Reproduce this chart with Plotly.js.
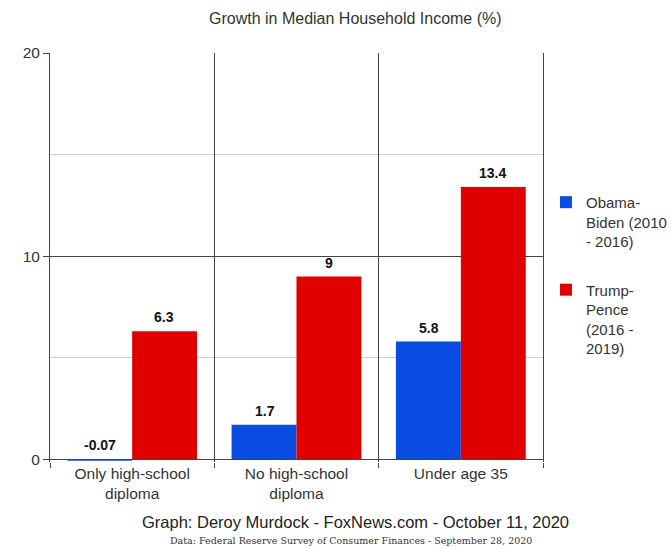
<!DOCTYPE html>
<html>
<head>
<meta charset="utf-8">
<script src="https://cdn.plot.ly/plotly-3.0.1.min.js"></script>
<style>html,body{margin:0;padding:0;background:#fff;}#chart{width:671px;height:548px;}</style>
</head>
<body>
<div id="chart"></div>
<script>
const categories = ["Only high-school<br>diploma", "No high-school<br>diploma", "Under age 35"];
const obamaValues = [-0.07, 1.7, 5.8];
const trumpValues = [6.3, 9, 13.4];
const obamaLabels = ["-0.07", "1.7", "5.8"];
const trumpLabels = ["6.3", "9", "13.4"];
const seriesNames = ["Obama-<br>Biden (2010<br>- 2016)", "Trump-<br>Pence<br>(2016 -<br>2019)"];

const blue = "#0a4be2";
const red = "#e00000";

const traces = [
  {type: "bar", x: categories, y: obamaValues, name: seriesNames[0], legendgroup: "a",
   marker: {color: blue}, hoverinfo: "none"},
  {type: "bar", x: categories, y: trumpValues, name: seriesNames[1], legendgroup: "b",
   marker: {color: red}, hoverinfo: "none"}
];

const annotations = [];
categories.forEach((c, i) => {
  annotations.push({x: c, y: Math.max(obamaValues[i], 0), text: "<b>" + obamaLabels[i] + "</b>",
    xshift: -32, yshift: 4, yanchor: "bottom", showarrow: false, font: {size: 14, color: "#111"}});
  annotations.push({x: c, y: Math.max(trumpValues[i], 0), text: "<b>" + trumpLabels[i] + "</b>",
    xshift: 32, yshift: 4, yanchor: "bottom", showarrow: false, font: {size: 14, color: "#111"}});
});
annotations.push({xref: "paper", yref: "paper", x: 0.62, y: 1.085, text: "Growth in Median Household Income (%)",
  showarrow: false, yanchor: "middle", font: {size: 16, color: "#333"}});
annotations.push({xref: "paper", yref: "paper", x: 0.62, y: -0.147, text: "Graph: Deroy Murdock - FoxNews.com - October 11, 2020",
  showarrow: false, yanchor: "middle", font: {size: 16.5, color: "#222"}});
annotations.push({xref: "paper", yref: "paper", x: 0.61, y: -0.193, text: "Data: Federal Reserve Survey of Consumer Finances - September 28, 2020",
  showarrow: false, yanchor: "middle", font: {size: 9.5, color: "#333", family: "DejaVu Serif, serif"}});

const layout = {
  width: 671, height: 548,
  margin: {l: 50, r: 128, t: 53, b: 86, autoexpand: false},
  paper_bgcolor: "#fff", plot_bgcolor: "#fff",
  font: {family: "Liberation Sans, Arial, sans-serif", color: "#333"},
  barmode: "group", bargap: 0.21, bargroupgap: 0,
  showlegend: true,
  legend: {x: 1.006, y: 0.675, xanchor: "left", yanchor: "top", valign: "top",
    font: {size: 15, color: "#333"}, tracegroupgap: 26, itemwidth: 30, traceorder: "grouped"},
  xaxis: {type: "category", tickson: "boundaries", showgrid: true, gridcolor: "#444", gridwidth: 1,
    ticks: "outside", ticklen: 5, tickcolor: "#444", showline: false,
    tickfont: {size: 15.5, color: "#333"}, fixedrange: true},
  yaxis: {range: [-0.13, 20], tickvals: [0, 10, 20], showgrid: true, gridcolor: "#444", gridwidth: 1,
    ticks: "outside", ticklen: 6, tickcolor: "#444", showline: true, linecolor: "#444", mirror: true,
    zeroline: true, zerolinecolor: "#444", zerolinewidth: 1, tickfont: {size: 15.5, color: "#333"},
    minor: {tickvals: [5, 15], showgrid: true, gridcolor: "#d0d0d0", ticks: ""}},
  annotations: annotations
};

Plotly.newPlot("chart", traces, layout, {displayModeBar: false, staticPlot: true});
</script>
</body>
</html>
